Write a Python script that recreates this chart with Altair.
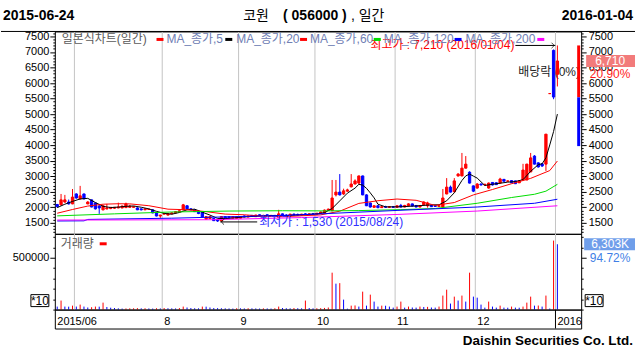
import altair as alt
import pandas as pd

# ---------------- data: trading days 2015-06-24 .. 2016-01-04 (index 0..131) ----------------
opens = [2090, 2080, 2170, 2170, 2110, 2430, 2270, 2430, 2110, 2240, 2140, 2040, 1920, 1950, 1960, 1970, 1980, 1980, 1990, 2000,
         2000, 1980, 1950, 1920, 1930, 1920, 1820, 1720, 1780, 1750, 1790, 1820, 1850, 1920, 2050, 1950, 1920, 1860, 1850, 1620,
         1640, 1640, 1600, 1560, 1700, 1700, 1650, 1640, 1650, 1720, 1690, 1740, 1700, 1760, 1730, 1760, 1720, 1740, 1680, 1790,
         1750, 1720, 1780, 1770, 1750, 1790, 1770, 1790, 1780, 1810, 1820, 1900, 1890, 2400, 2490, 2430, 2520, 2660, 2750, 2780,
         3010, 2400, 2140, 2000, 2050, 1990, 2020, 2000, 2020, 2000, 2060, 2010, 2050, 2110, 2060, 2010, 2080, 2050, 2060, 2050,
         2030, 2010, 2430, 2650, 2500, 3010, 3010, 3260, 3130, 2690, 2620, 2750, 2720, 2620, 2800, 2790, 2780, 2900, 2840, 2860,
         2850, 2790, 2880, 2880, 3140, 3650, 3430, 3400, 3390, 5660, 7050, 6280]
highs = [2110, 2430, 2400, 2250, 2590, 2450, 2690, 2440, 2200, 2250, 2150, 2110, 2060, 2110, 2010, 2010, 2150, 2060, 2150, 2080,
         2030, 2000, 1960, 1960, 1950, 1930, 1830, 1760, 1820, 1810, 1840, 1880, 1900, 2110, 2060, 1970, 1930, 1870, 1860, 1710,
         1720, 1650, 1620, 1720, 1720, 1710, 1720, 1710, 1720, 1740, 1730, 1750, 1760, 1770, 1760, 1770, 1750, 1750, 1920, 1800,
         1780, 1790, 1800, 1800, 1790, 1810, 1800, 1820, 1820, 1860, 1930, 1960, 2880, 2880, 3070, 2600, 2600, 3070, 2900, 3020,
         3020, 2420, 2150, 2060, 2070, 2040, 2050, 2030, 2040, 2060, 2110, 2080, 2130, 2120, 2070, 2060, 2190, 2180, 2080, 2060,
         2070, 2590, 2940, 2700, 2940, 3100, 3750, 3650, 3160, 2700, 2780, 2770, 2760, 2800, 2810, 2800, 2950, 2910, 2870, 2870,
         2860, 2870, 3400, 3400, 3750, 3680, 3450, 3420, 4355, 5660, 7080, 7210]
lows = [2000, 2060, 2150, 2090, 2100, 2280, 2250, 2260, 2100, 2000, 1930, 1790, 1900, 1930, 1940, 1950, 1970, 1970, 1980, 1990,
        1990, 1910, 1900, 1910, 1920, 1810, 1710, 1660, 1770, 1740, 1780, 1810, 1840, 1910, 1940, 1910, 1850, 1780, 1680, 1600,
        1620, 1560, 1530, 1550, 1640, 1650, 1640, 1630, 1640, 1680, 1680, 1700, 1690, 1720, 1710, 1720, 1700, 1690, 1670, 1710,
        1700, 1710, 1740, 1740, 1740, 1760, 1760, 1770, 1770, 1800, 1810, 1880, 1880, 2350, 2380, 2400, 2500, 2640, 2740, 2760,
        2390, 2040, 1990, 1980, 1970, 1980, 1990, 1980, 1990, 1990, 2000, 2000, 2040, 2030, 2000, 2000, 2070, 1990, 2010, 2010,
        2020, 2000, 2420, 2480, 2490, 2990, 3000, 3250, 2770, 2490, 2600, 2700, 2700, 2600, 2700, 2720, 2770, 2830, 2820, 2780,
        2750, 2780, 2870, 2870, 3130, 3380, 3280, 3300, 3170, 5660, 5480, 5890]
closes = [2020, 2240, 2240, 2110, 2330, 2300, 2370, 2270, 2170, 2010, 1950, 1980, 2050, 1980, 2000, 2000, 2010, 2040, 2110, 2040,
          2020, 1920, 1920, 1950, 1940, 1820, 1720, 1750, 1800, 1800, 1820, 1860, 1890, 2080, 1950, 1920, 1860, 1800, 1690, 1700,
          1700, 1570, 1560, 1700, 1650, 1660, 1700, 1700, 1700, 1690, 1720, 1710, 1750, 1730, 1740, 1730, 1740, 1700, 1790, 1720,
          1720, 1780, 1760, 1750, 1780, 1770, 1790, 1780, 1810, 1850, 1910, 1940, 2300, 2490, 2400, 2530, 2560, 2750, 2850, 3010,
          2400, 2050, 2010, 2050, 1990, 2020, 2000, 2020, 2000, 2050, 2010, 2060, 2110, 2040, 2010, 2050, 2170, 2140, 2020, 2030,
          2050, 2300, 2650, 2490, 2850, 3070, 3260, 3390, 2780, 2520, 2750, 2720, 2740, 2780, 2720, 2730, 2910, 2840, 2850, 2790,
          2760, 2850, 3200, 3390, 3590, 3390, 3300, 3330, 4355, 5660, 5550, 6710]
volumes_k = [290, 870, 290, 280, 380, 290, 480, 290, 200, 230, 290, 280, 670,
             250, 180, 150, 120, 100, 110, 120, 130, 140, 120, 130, 110, 100, 130, 110,
             150, 130, 120, 110, 140, 290, 200, 150, 130, 120, 290, 280, 200, 150, 140, 130, 120, 110, 100, 130,
             120, 110, 130, 120, 110, 100, 120, 110, 100, 130, 290, 150, 130, 120, 150, 130, 120, 870, 150, 120,
             130, 140, 160, 200,
             3560, 2500, 2550, 960, 90, 380, 400, 290, 1730, 380, 1440, 770, 290, 380, 370, 290, 190,
             290, 770, 190, 290, 200, 190, 290, 250, 260, 200, 190, 290,
             1350, 1920, 580, 1250, 870, 1350, 770, 3560, 1250, 1150, 480, 190, 770,
             290, 190, 380, 190, 180, 290, 190, 180, 290,
             670, 1250, 380, 390, 290, 1350, 100, 6654, 6303]

ma5_days = [0, 2, 4, 6, 8, 10, 12, 14, 16, 18, 20, 22, 24, 26, 28, 30, 32, 34, 36, 38, 40, 42, 44, 46, 48, 52, 56, 60, 64,
            68, 70, 72, 74, 76, 78, 79, 80, 81, 82, 83, 84, 86, 90, 94, 98, 100, 102, 104, 106, 107, 108, 109, 110, 112,
            114, 116, 118, 120, 122, 124, 126, 127, 128, 129, 130, 131]
ma5_vals = [1990, 2100, 2190, 2270, 2288, 2154, 2032, 1992, 2008, 2032, 2044, 2002, 1950, 1870, 1806, 1778, 1834, 1920, 1940,
            1844, 1750, 1644, 1636, 1654, 1682, 1714, 1738, 1734, 1758, 1786, 1828, 1962, 2208, 2456, 2618, 2740, 2714, 2612,
            2464, 2304, 2100, 2014, 2016, 2046, 2078, 2082, 2210, 2468, 2864, 3012, 3070, 3004, 2940, 2702, 2742, 2776, 2810,
            2830, 2890, 3158, 3374, 3400, 3593, 4007, 4439, 5000]
ma20_days = [0, 4, 8, 12, 16, 19, 24, 29, 34, 39, 44, 49, 54, 59, 64, 69, 74, 79, 84, 89, 94, 99, 104, 109, 114, 119, 124,
             129, 131]
ma20_vals = [1810, 1930, 2040, 2100, 2115, 2111, 2052, 1940, 1922, 1860, 1782, 1760, 1712, 1698, 1728, 1756, 1876, 2126,
             2212, 2267, 2226, 2062, 2154, 2400, 2574, 2760, 2932, 3183, 3490]
ma60_days = [0, 15, 30, 45, 59, 70, 79, 90, 99, 110, 119, 125, 128, 131]
ma60_vals = [1725, 1790, 1850, 1880, 1890, 1885, 1895, 1925, 1962, 2130, 2316, 2420, 2520, 2740]
ma120_days = [0, 7, 8, 30, 60, 89, 110, 125, 131]
ma120_vals = [1560, 1565, 1610, 1650, 1740, 1900, 2010, 2130, 2260]
ma200_days = [0, 40, 64, 89, 110, 131]
ma200_vals = [1590, 1600, 1670, 1770, 1880, 2050]

month_first_day = [0, 28, 48, 68, 89, 110, 131]
month_labels = ["2015/06", "8", "9", "10", "11", "12", "2016"]
grid_first_day = [5, 28, 48, 68, 89, 110, 131]

low_value, low_day, low_date = 1530, 42, "2015/08/24"
high_value, high_day, high_date = 7210, 131, "2016/01/04"
range_levels = [7210, 5540, 3970]
last_change_text = "20.90%"
last_volume_text = "6,303K"
volume_ratio_text = "94.72%"

# ---------------- helpers ----------------
MIX = "Liberation Sans, Noto Sans CJK KR"
LAT = "Liberation Sans"
UP, DOWN = "#ff0000", "#0000ff"
W, HP, HV, HB = 528, 203, 76, 19
N = len(closes)

xs = alt.Scale(domain=[-0.63, 137.23], nice=False, zero=False)
ps = alt.Scale(domain=[1147, 7660], nice=False, zero=False)
vs = alt.Scale(domain=[0, 7308], nice=False, zero=False)


def side_axis(orient, values, major_test, label_expr, pad):
    return alt.Axis(orient=orient, values=values, format="d", labelExpr=label_expr,
                    tickSize={"condition": {"test": major_test, "value": 5}, "value": 2},
                    domain=False, grid=False, labelFont=LAT, labelFontSize=11, labelColor="#000000",
                    tickColor="#000000", tickWidth=1, labelPadding=pad, labelOverlap=False,
                    labelBound=False, labelFlush=False, title=None, zindex=0)


pvals = list(range(1200, 7601, 100))
vvals = list(range(0, 7001, 1000))
LEFT_P = side_axis("left", pvals, "datum.value % 500 === 0", "datum.value % 500 === 0 ? datum.label : ''", 1)
RIGHT_P = side_axis("right", pvals, "datum.value % 500 === 0", "datum.value % 500 === 0 ? datum.label : ''", 2)
LEFT_V = side_axis("left", vvals, "datum.value === 5000",
                   "datum.value === 5000 ? format(datum.value * 100, 'd') : ''", 1)
RIGHT_V = side_axis("right", vvals, "datum.value === 5000", "''", 2)


def X(f):
    return alt.X(f, type="quantitative", scale=xs, axis=None)


def PY(f, axis=LEFT_P):
    return alt.Y(f, type="quantitative", scale=ps, axis=axis)


def VY(f, axis=LEFT_V):
    return alt.Y(f, type="quantitative", scale=vs, axis=axis)


one = pd.DataFrame({"k": [0]})


def label(x, y, text, color="#000000", size=12, weight="normal", align="left", font=MIX):
    return alt.Chart(one).mark_text(align=align, baseline="middle", color=color, fontSize=size,
                                    fontWeight=weight, font=font).encode(
        x=alt.value(x), y=alt.value(y), text=alt.value(text))


def box(x1, x2, y1, y2, fill, stroke=None):
    kw = {"fill": fill}
    if stroke:
        kw.update(stroke=stroke, strokeWidth=1)
    return alt.Chart(one).mark_rect(**kw).encode(
        x=alt.value(x1), x2=alt.value(x2), y=alt.value(y1), y2=alt.value(y2))


def hline(x1, x2, y, color, width=1):
    return alt.Chart(one).mark_rule(color=color, strokeWidth=width).encode(
        x=alt.value(x1), x2=alt.value(x2), y=alt.value(y))


# ---------------- price panel ----------------
cdf = pd.DataFrame({"d": list(range(N)), "o": opens, "h": highs, "l": lows, "c": closes})
cdf["dir"] = ["up" if c >= o else "down" for o, c in zip(opens, closes)]
cdf["xl"] = cdf["d"] - 0.3
cdf["xr"] = cdf["d"] + 0.3
cdir = alt.Color("dir:N", scale=alt.Scale(domain=["up", "down"], range=[UP, DOWN]), legend=None)

grid_df = pd.DataFrame({"g": [d - 0.5 for d in grid_first_day]})
grid_p = alt.Chart(grid_df).mark_rule(color="#c4c4c4", strokeWidth=1).encode(x=X("g:Q"))

wicks = alt.Chart(cdf).mark_rule(strokeWidth=1).encode(
    x=X("d:Q"), y=PY("l:Q"), y2="h:Q", color=cdir)
bodies = alt.Chart(cdf).mark_rect(strokeWidth=1).encode(
    x=X("xl:Q"), x2="xr:Q", y=PY("o:Q"), y2="c:Q", color=cdir, stroke=cdir)


def ma_layer(days, vals, color):
    return alt.Chart(pd.DataFrame({"d": days, "v": vals})).mark_line(color=color, strokeWidth=1).encode(
        x=X("d:Q"), y=PY("v:Q"))


mas = [ma_layer(ma5_days, ma5_vals, "#000000"),
       ma_layer(ma20_days, ma20_vals, "#ff0000"),
       ma_layer(ma60_days, ma60_vals, "#00dd00"),
       ma_layer(ma120_days, ma120_vals, "#0000ff"),
       ma_layer(ma200_days, ma200_vals, "#ff00ff")]

ann_df = pd.DataFrame({
    "p": [high_value, low_value],
    "t": [f"최고가 : {high_value:,} ({high_date})", f"최저가 : {low_value:,} ({low_date})"],
})
hi_df = ann_df.iloc[[0]]
lo_df = ann_df.iloc[[1]]
hi_text = alt.Chart(hi_df).mark_text(align="right", baseline="middle", color="#ff0000",
                                     fontSize=12, font=MIX).encode(x=alt.value(461), y=PY("p:Q"), text="t:N")
hi_line = alt.Chart(hi_df).mark_rule(color="#000000").encode(x=alt.value(462), x2=alt.value(502), y=PY("p:Q"))
hi_head = alt.Chart(hi_df).mark_point(shape="M-1,-1L0,0L-1,1", filled=False, size=30,
                                      color="#000000", strokeWidth=1).encode(x=alt.value(501), y=PY("p:Q"))
lo_text = alt.Chart(lo_df).mark_text(align="left", baseline="middle", color="#3030ff",
                                     fontSize=12, font=MIX).encode(x=alt.value(205), y=PY("p:Q"), text="t:N")
lo_line = alt.Chart(lo_df).mark_rule(color="#000000").encode(x=alt.value(166), x2=alt.value(203), y=PY("p:Q"))
lo_head = alt.Chart(lo_df).mark_point(shape="M1,-1L0,0L1,1", filled=False, size=30,
                                      color="#000000", strokeWidth=1).encode(x=alt.value(167), y=PY("p:Q"))

exdiv = alt.Chart(one).mark_text(align="left", baseline="middle", color="#222222", fontSize=12,
                                 font=MIX, clip=True).encode(
    x=alt.value(465), y=alt.value(41), text=alt.value("배당락 (0%)"))

legend_items = [("일본식차트(일간)", "#5a5a5a", 7, 102, UP),
                ("MA_종가,5", "#7080b4", 112, 171, "#000000"),
                ("MA_종가,20", "#7080b4", 182, 246, "#ff0000"),
                ("MA_종가,60", "#7080b4", 256, 320, "#00dd00"),
                ("MA_종가,120", "#7080b4", 330, 401, "#0000ff"),
                ("MA_종가,200", "#7080b4", 412, 484, "#ff00ff")]
legend_layers = []
for txt, tcol, tx, mx, mcol in legend_items:
    legend_layers.append(label(tx, 8, txt, color=tcol, size=12))
    legend_layers.append(box(mx, mx + 7, 6.5, 9.5, mcol))

titles = [
    label(-52, -15, "2015-06-24", size=14, weight="bold", font=LAT),
    label(580, -15, "2016-01-04", size=14, weight="bold", font=LAT, align="right"),
    label(189, -15, "코원", size=14, font="Noto Sans CJK KR"),
    label(229, -15, "( 056000 )", size=14, weight="bold", font=LAT),
    label(297, -15, ", 일간", size=14, font=MIX),
]

last_df = pd.DataFrame({"p": [closes[-1]], "t": [f"{closes[-1]:,}"], "pct": [last_change_text]})
last_box = alt.Chart(last_df).mark_rect(fill="#f27b7b", yOffset=-6, y2Offset=6).encode(
    x=alt.value(533), x2=alt.value(582), y=PY("p:Q", RIGHT_P), y2="p:Q")
last_txt = alt.Chart(last_df).mark_text(color="#ffffff", fontSize=12, font=LAT, baseline="middle",
                                        align="center").encode(x=alt.value(557), y=PY("p:Q", RIGHT_P), text="t:N")
last_pct = alt.Chart(last_df).mark_text(color="#ff1a1a", fontSize=12, font=LAT, baseline="middle",
                                        align="center", dy=13).encode(x=alt.value(557), y=PY("p:Q", RIGHT_P),
                                                                      text="pct:N")

range_df = pd.DataFrame({"hi": range_levels[:2], "lo": range_levels[1:], "part": ["up", "down"]})
range_bar = alt.Chart(range_df).mark_rect().encode(
    x=alt.value(524), x2=alt.value(527), y=PY("hi:Q", RIGHT_P), y2="lo:Q",
    color=alt.Color("part:N", scale=alt.Scale(domain=["up", "down"], range=[UP, DOWN]), legend=None))

top_line = hline(-54, 582, 0, "#000000")
guard_top = hline(-53.5, 581.5, -29.5, "#ffffff")

price_main = alt.layer(grid_p, guard_top, top_line, exdiv, wicks, bodies, *mas,
                       hi_line, hi_head, lo_line, lo_head, hi_text, lo_text,
                       *legend_layers, *titles)
price = alt.layer(price_main, alt.layer(range_bar, last_box, last_txt, last_pct)).resolve_scale(
    y="independent").properties(width=W, height=HP)

# ---------------- volume panel ----------------
vdf = pd.DataFrame({"d": list(range(N)), "v": volumes_k})
vdf["dir"] = ["down"] + ["up" if volumes_k[i] > volumes_k[i - 1] else "down" for i in range(1, N)]

grid_v = alt.Chart(grid_df).mark_rule(color="#c4c4c4", strokeWidth=1).encode(x=X("g:Q"))
vbars = alt.Chart(vdf).mark_rule(strokeWidth=1).encode(
    x=X("d:Q"), y=VY("v:Q"), y2=alt.datum(0), color=cdir)

vlast_df = pd.DataFrame({"v": [volumes_k[-1]], "t": [last_volume_text], "r": [volume_ratio_text]})
vlast_box = alt.Chart(vlast_df).mark_rect(fill="#6f9eea", yOffset=-6, y2Offset=6).encode(
    x=alt.value(531), x2=alt.value(582), y=VY("v:Q", RIGHT_V), y2="v:Q")
vlast_txt = alt.Chart(vlast_df).mark_text(color="#ffffff", fontSize=12, font=LAT, baseline="middle",
                                          align="center").encode(x=alt.value(557), y=VY("v:Q", RIGHT_V), text="t:N")
vlast_pct = alt.Chart(vlast_df).mark_text(color="#3f7fe6", fontSize=12, font=LAT, baseline="middle",
                                          align="center", dy=14).encode(x=alt.value(557), y=VY("v:Q", RIGHT_V),
                                                                        text="r:N")

vol_main = alt.layer(
    grid_v, vbars,
    label(6, 10, "거래량", color="#5a5a5a", size=12, font="Noto Sans CJK KR"),
    box(45, 52, 8.5, 11.5, UP),
    box(-24, -6, 61, 73, "#ffffff", "#000000"),
    label(-15, 67.5, "*10", size=12, align="center", font=LAT),
    box(532, 550, 61, 73, "#ffffff", "#000000"),
    label(541, 67.5, "*10", size=12, align="center", font=LAT),
)
vol = alt.layer(vol_main, alt.layer(vlast_box, vlast_txt, vlast_pct)).resolve_scale(
    y="independent").properties(width=W, height=HV)

# ---------------- month label band ----------------
mdf = pd.DataFrame({"b": [d - 0.5 for d in month_first_day], "t": month_labels})
mtext = alt.Chart(mdf).mark_text(align="left", baseline="middle", fontSize=11, font=LAT, color="#000000",
                                 dx=2).encode(x=X("b:Q"), y=alt.value(12.5), text="t:N")
ysep = alt.Chart(mdf.iloc[[-1]]).mark_rule(color="#000000").encode(x=X("b:Q"))
band = alt.layer(
    mtext, ysep,
    label(580, 32, "Daishin Securities Co. Ltd.", size=13.5, weight="bold", font=LAT, align="right"),
    hline(-53.5, 581.5, 43.5, "#ffffff"),
).properties(width=W, height=HB)

chart = alt.vconcat(price, vol, band, spacing=0, bounds="flush").properties(
    padding=0, background="#ffffff").configure_view(stroke="#000000", strokeWidth=1)

chart.save("out.html", embed_options={"renderer": "svg", "actions": False})
